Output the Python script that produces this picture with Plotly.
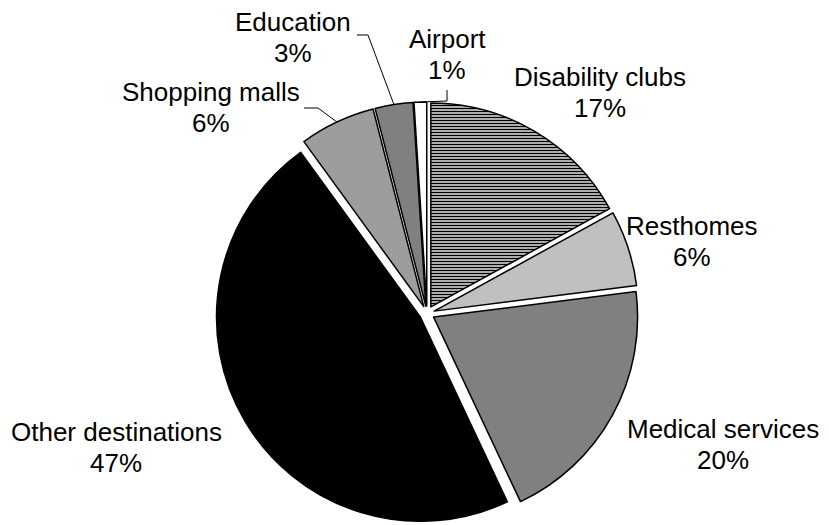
import math
import plotly.graph_objects as go

# ---- data ----
categories = ["Disability clubs", "Resthomes", "Medical services", "Other destinations",
              "Shopping malls", "Education", "Airport"]
values = [17, 6, 20, 47, 6, 3, 1]

# ---- styles ----
fill_colors = ["#ffffff", "#c0c0c0", "#808080", "#000000", "#ffffff", "#808080", "#ffffff"]
pat_shapes = ["-", "", "", "", ".", "", ""]
pat_fg = ["#000000"] * 7
pat_bg = ["#ffffff", "#c0c0c0", "#808080", "#000000", "#ffffff", "#808080", "#ffffff"]
pat_size = [3, 3, 3, 3, 2, 3, 3]
pat_solid = [0.55, 0.5, 0.5, 0.5, 0.4, 0.5, 0.5]

# page body has an 8px margin: figure occupies screen px 8..829 / 8..525
OFF = 8
W, H = 829 - OFF, 525 - OFF
PULL = 0.037
R = 204.0
half = R * (1 + PULL)
CX_S = 427.0                       # screen px
CX, CY = CX_S - OFF, H - half      # figure px centre of unpulled pie

# label text-line centres (screen pixels)
label_x = [600, 692, 723, 116, 211, 293, 447]
label_y = [77, 226, 429, 432, 92, 22, 39]
LINE_GAP = 31

# leader-line elbows / ends (screen pixels), None = no leader
elbow = [None, None, None, None, (318, 108), (368, 35), (447, 101)]
lend = [None, None, None, None, (304, 108), (357, 35), (447, 90)]

FONT = dict(family="Liberation Sans, Arial, sans-serif", size=26, color="#000000")

fig = go.Figure(go.Pie(
    labels=categories,
    values=values,
    sort=False,
    direction="clockwise",
    rotation=0,
    pull=[PULL] * len(values),
    textinfo="none",
    hoverinfo="skip",
    showlegend=False,
    marker=dict(
        colors=fill_colors,
        line=dict(color="#000000", width=1.5),
        pattern=dict(shape=pat_shapes, fgcolor=pat_fg, bgcolor=pat_bg,
                     size=pat_size, solidity=pat_solid, fillmode="replace"),
    ),
    domain=dict(x=[(CX - half) / W, (CX + half) / W], y=[0, 2 * half / H]),
))

total = sum(values)


def scr2paper(x, y):
    return (x - OFF) / W, 1 - (y - OFF) / H


def fig2paper(x, y):
    return x / W, 1 - y / H


annotations = []
shapes = []
cum = 0
for i, (cat, v) in enumerate(zip(categories, values)):
    mid = (cum + v / 2) / total * 2 * math.pi
    cum += v
    pct = round(v / total * 100)
    nx, ny = scr2paper(label_x[i], label_y[i])
    annotations.append(dict(x=nx, y=ny, xref="paper", yref="paper", text=cat,
                            showarrow=False, xanchor="center", yanchor="middle", font=FONT))
    px_, py_ = scr2paper(label_x[i], label_y[i] + LINE_GAP)
    annotations.append(dict(x=px_, y=py_, xref="paper", yref="paper", text=f"{pct}%",
                            showarrow=False, xanchor="center", yanchor="middle", font=FONT))
    if elbow[i] is not None:
        dist = R * PULL + R
        ex = CX + math.sin(mid) * dist
        ey = CY - math.cos(mid) * dist
        pts = [fig2paper(ex, ey), scr2paper(*elbow[i]), scr2paper(*lend[i])]
        for a0, a1 in zip(pts[:-1], pts[1:]):
            shapes.append(dict(type="line", xref="paper", yref="paper",
                               x0=a0[0], y0=a0[1], x1=a1[0], y1=a1[1],
                               line=dict(color="#000000", width=1)))

fig.update_layout(
    width=W, height=H,
    margin=dict(l=0, r=0, t=0, b=0),
    paper_bgcolor="#ffffff",
    plot_bgcolor="#ffffff",
    annotations=annotations,
    shapes=shapes,
)

fig.write_html("out.html")
